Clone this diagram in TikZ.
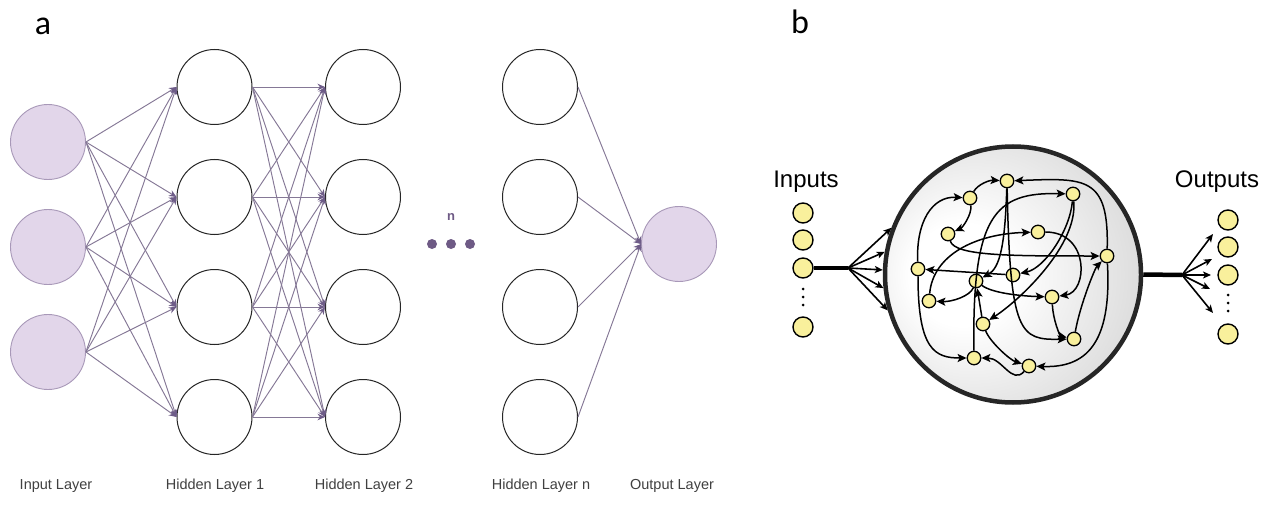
\documentclass[tikz,border=0pt]{standalone}
\usepackage{fontspec}
\setmainfont{Liberation Sans}
\newfontfamily\carlito{Carlito}
\usetikzlibrary{arrows.meta}
\definecolor{lav}{HTML}{E2D6EA}
\definecolor{lavline}{HTML}{A898B8}
\definecolor{edgec}{HTML}{857896}
\definecolor{tipc}{HTML}{6E5C88}
\definecolor{dotc}{HTML}{6E5A85}
\definecolor{yel}{HTML}{F9F09C}
\definecolor{lblc}{HTML}{404040}
\pgfdeclareradialshading{ballshade}{\pgfpoint{-12bp}{0bp}}{color(0bp)=(white); color(10bp)=(white); color(58bp)=(gray!62)}
\begin{document}
\begin{tikzpicture}[x=1pt,y=-1pt,
  inl/.style={circle,draw=lavline,fill=lav,line width=0.9pt,minimum size=75pt,inner sep=0pt},
  hid/.style={circle,draw=black!85,line width=1pt,minimum size=75pt,inner sep=0pt,fill=white},
  nnedge/.style={draw=edgec,line width=0.95pt,-{Stealth[length=7.5pt,width=6.5pt,color=tipc]}},
  lbl/.style={font=\fontsize{14.5}{16}\selectfont,text=lblc},
  ynode/.style={circle,draw=black,fill=yel,line width=1.3pt,minimum size=13.5pt,inner sep=0pt},
  ionode/.style={circle,draw=black,fill=yel,line width=1.4pt,minimum size=20pt,inner sep=0pt},
  gedge/.style={line width=1.5pt,-{Stealth[length=9pt,width=8pt,inset=2pt]}},
  fanarrow/.style={line width=1.6pt,-{Stealth[length=8pt,width=7pt,inset=2pt]}},
  smalldot/.style={circle,fill=black,minimum size=3pt,inner sep=0pt},
  bigdot/.style={circle,fill=dotc,minimum size=10pt,inner sep=0pt},
  iolbl/.style={font=\fontsize{24}{24}\selectfont},
  panel/.style={font=\carlito\fontsize{34}{34}\selectfont}
]
\useasboundingbox (0,0) rectangle (1280,508);
% ---------------- panel a ----------------
\node[panel] (la) at (43,26) {a};
\node[inl] (i1) at (48,142) {};
\node[inl] (i2) at (48,247) {};
\node[inl] (i3) at (48,352) {};
\foreach \j/\y in {1/87,2/197,3/307,4/417}{
  \node[hid] (h\j) at (214.5,\y) {};
  \node[hid] (g\j) at (363,\y) {};
  \node[hid] (k\j) at (540,\y) {};
}
\node[inl] (o) at (679,244) {};
\foreach \i in {1,2,3}{\foreach \j in {1,...,4}{\draw[nnedge] (i\i.east) -- (h\j.west);}}
\foreach \i in {1,...,4}{\foreach \j in {1,...,4}{\draw[nnedge] (h\i.east) -- (g\j.west);}}
\foreach \i in {1,...,4}{\draw[nnedge] (k\i.east) -- (o.west);}
\node[font=\bfseries\fontsize{13}{13}\selectfont,text=dotc] (nlab) at (451,217) {n};
\node[bigdot] (d1) at (432,244) {};
\node[bigdot] (d2) at (451,244) {};
\node[bigdot] (d3) at (470,244) {};
\node[lbl] (l1) at (56,486) {Input Layer};
\node[lbl] (l2) at (215,486) {Hidden Layer 1};
\node[lbl] (l3) at (364,486) {Hidden Layer 2};
\node[lbl] (l4) at (541,486) {Hidden Layer n};
\node[lbl] (l5) at (672,486) {Output Layer};
% ---------------- panel b ----------------
\node[panel] (lb) at (800,22) {b};
\node[circle,draw=black!85,line width=4.5pt,minimum size=256pt,inner sep=0pt,shade,shading=ballshade] (ball) at (1013,274.5) {};
\node[ynode] (n1) at (1007,181) {};
\node[ynode] (n2) at (970,198) {};
\node[ynode] (n3) at (1073,194) {};
\node[ynode] (n4) at (948,234) {};
\node[ynode] (n5) at (1038,232) {};
\node[ynode] (n6) at (1107,256) {};
\node[ynode] (n7) at (918,269) {};
\node[ynode] (n8) at (1013,275) {};
\node[ynode] (n9) at (976,281) {};
\node[ynode] (n10) at (929,301) {};
\node[ynode] (n11) at (1052,297) {};
\node[ynode] (n12) at (983,324) {};
\node[ynode] (n13) at (1074,339) {};
\node[ynode] (n14) at (974,358) {};
\node[ynode] (n15) at (1029,366) {};
\draw[gedge] (n2) .. controls (978,184) and (990,180) .. (n1);
\draw[gedge] (n2) .. controls (972,215) and (962,228) .. (n4);
\draw[gedge] (n7) .. controls (916,222) and (932,196) .. (n2);
\draw[gedge] (n6) .. controls (1109,176) and (1085,178) .. (n1);
\draw[gedge] (n4) .. controls (955,256) and (1010,256) .. (n6);
\draw[gedge] (n1) .. controls (1005,245) and (1000,268) .. (n9);
\draw[gedge] (n1) .. controls (1010,335) and (1020,340) .. (n13);
\draw[gedge] (n3) .. controls (1070,230) and (1045,268) .. (n8);
\draw[gedge] (n3) .. controls (1078,245) and (1020,300) .. (n12);
\draw[gedge] (n14) .. controls (972,215) and (995,192) .. (n3);
\draw[gedge] (n10) .. controls (933,255) and (975,234) .. (n5);
\draw[gedge] (n8) -- (n7);
\draw[gedge] (n9) .. controls (970,296) and (952,302) .. (n10);
\draw[gedge] (n9) .. controls (992,293) and (1020,296) .. (n11);
\draw[gedge] (n5) .. controls (1090,232) and (1088,292) .. (n11);
\draw[gedge] (n11) .. controls (1053,320) and (1060,336) .. (n13);
\draw[gedge] (n13) .. controls (1080,305) and (1095,268) .. (n6);
\draw[gedge] (n12) -- (n9);
\draw[gedge] (n12) .. controls (990,342) and (1010,360) .. (n15);
\draw[gedge] (n15) .. controls (1012,385) and (1002,358) .. (n14);
\draw[gedge] (n6) .. controls (1112,345) and (1085,368) .. (n15);
\draw[gedge] (n7) .. controls (918,350) and (935,358) .. (n14);
% inputs
\node[iolbl] (tin) at (806,182) {Inputs};
\node[ionode] (in1) at (803,213) {};
\node[ionode] (in2) at (803,240) {};
\node[ionode] (in3) at (803,268) {};
\node[ionode] (in4) at (803,327) {};
\node[smalldot] (ida) at (803,289) {};
\node[smalldot] (idb) at (803,297) {};
\node[smalldot] (idc) at (803,305) {};
\coordinate (fin) at (848,268);
\draw[line width=4.5pt] (in3.east) -- (fin);
\foreach \a in {159,170,178,186,196}{\draw[fanarrow] (fin) -- (ball.\a);}
% outputs
\node[iolbl] (tout) at (1217,182) {Outputs};
\node[ionode] (out1) at (1228,220) {};
\node[ionode] (out2) at (1228,247) {};
\node[ionode] (out3) at (1228,275) {};
\node[ionode] (out4) at (1228,334) {};
\node[smalldot] (oda) at (1228,295) {};
\node[smalldot] (odb) at (1228,303) {};
\node[smalldot] (odc) at (1228,311) {};
\coordinate (fout) at (1182,275);
\coordinate (t1) at (1213,234);
\coordinate (t2) at (1212,259);
\coordinate (t3) at (1211,275);
\coordinate (t4) at (1210,289);
\coordinate (t5) at (1213,313);
\draw[line width=4.5pt] (ball.east) -- (fout);
\foreach \t in {t1,t2,t3,t4,t5}{\draw[fanarrow] (fout) -- (\t);}
\end{tikzpicture}
\end{document}
